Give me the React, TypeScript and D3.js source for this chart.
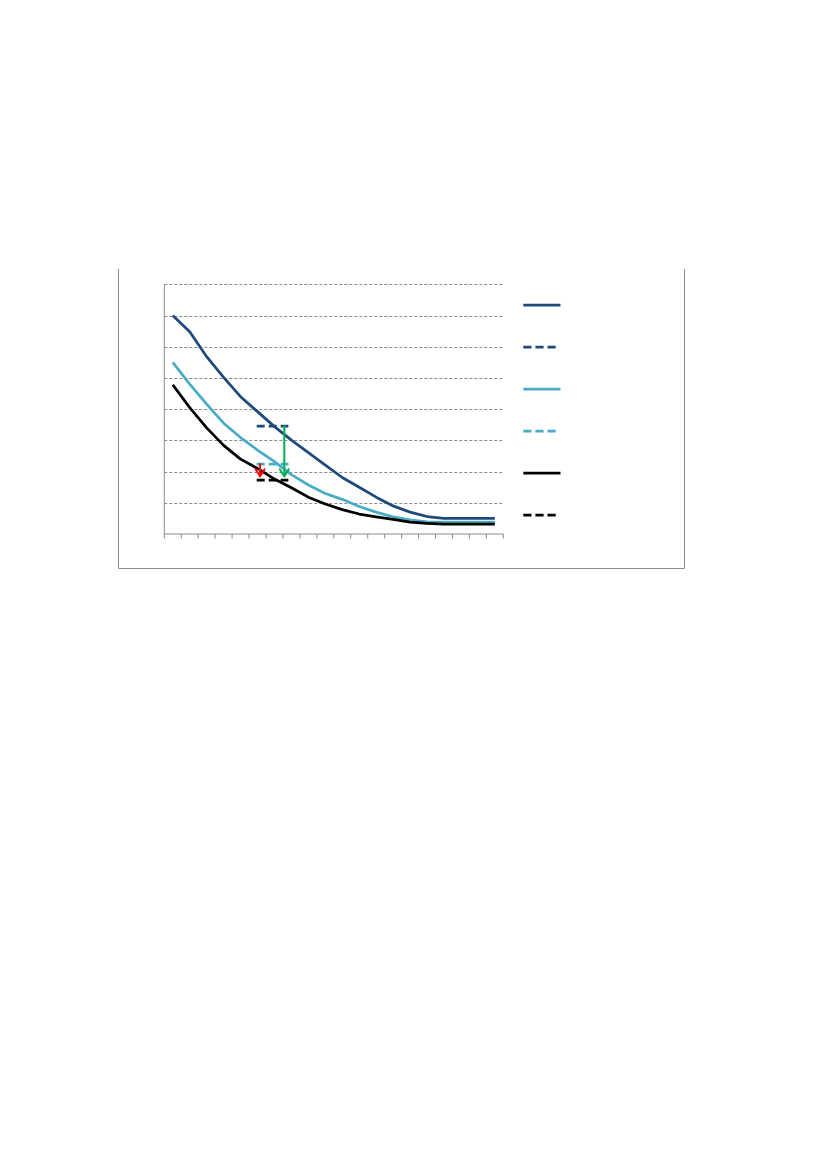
import React from "react";
import * as d3 from "d3";

// categories along the x axis (no labels are shown in the reference)
const categories = [1, 2, 3, 4, 5, 6, 7, 8, 9, 10, 11, 12, 13, 14, 15, 16, 17, 18, 19, 20];

// solid series
const darkBlueValues = [7.0, 6.48, 5.68, 5.02, 4.4, 3.92, 3.44, 3.01, 2.61, 2.21, 1.81, 1.5, 1.18, 0.9, 0.7, 0.56, 0.5, 0.5, 0.5, 0.5];
const lightBlueValues = [5.5, 4.8, 4.16, 3.55, 3.09, 2.69, 2.32, 1.9, 1.57, 1.3, 1.11, 0.88, 0.7, 0.55, 0.45, 0.39, 0.38, 0.38, 0.38, 0.38];
const blackValues = [4.78, 4.05, 3.4, 2.84, 2.4, 2.1, 1.76, 1.48, 1.18, 0.96, 0.78, 0.64, 0.55, 0.47, 0.38, 0.34, 0.32, 0.32, 0.32, 0.32];

// dashed reference segments (x in category-index units)
const dashedX = [4.95, 6.82];
const darkBlueDashed = [3.46, 3.46];
const lightBlueDashed = [2.24, 2.24];
const blackDashed = [1.73, 1.73];

// arrows: [x index, from value, to value]
const greenArrow = [6.58, 3.46, 1.85];
const redArrow = [5.15, 2.24, 1.85];

const yTicks = [0, 1, 2, 3, 4, 5, 6, 7, 8];

const DARK = "#1F497D";
const LIGHT = "#4BACC6";
const BLACK = "#000000";

const legendItems = [
  { color: DARK, dashed: false },
  { color: DARK, dashed: true },
  { color: LIGHT, dashed: false },
  { color: LIGHT, dashed: true },
  { color: BLACK, dashed: false },
  { color: BLACK, dashed: true },
];

export default function App() {
  const W = 827;
  const H = 1170;
  const left = 164.3;
  const right = 503.3;
  const top = 284.3;
  const bottom = 534;
  const n = categories.length;

  const xBand = d3.scaleLinear().domain([0, n]).range([left, right]);
  const xc = (i: number) => xBand(i + 0.5);
  const y = d3.scaleLinear().domain([0, 8]).range([bottom, top]);

  const line = d3
    .line<number>()
    .x((_, i) => xc(i))
    .y((d) => y(d));

  const dashLine = (vals: number[]) =>
    d3
      .line<number>()
      .x((_, i) => xc(dashedX[i]))
      .y((d) => y(d))(vals) || "";

  const arrow = (a: number[], color: string) => {
    const x = xc(a[0]);
    const y1 = y(a[1]);
    const y2 = y(a[2]);
    return (
      <g stroke={color} strokeWidth={2} fill="none" strokeLinecap="round" strokeLinejoin="round">
        <line x1={x} y1={y1} x2={x} y2={y2} />
        <polyline points={`${x - 4.5},${y2 - 7} ${x},${y2} ${x + 4.5},${y2 - 7}`} />
      </g>
    );
  };

  const legendX1 = 523.3;
  const legendX2 = 560.5;
  const legendY0 = 305;
  const legendStep = 42;

  return (
    <svg
      width={W}
      height={H}
      style={{ position: "absolute", left: 0, top: 0, background: "#fff" }}
    >
      {/* outer frame */}
      <g stroke="#8c8c8c" strokeWidth={1} fill="none">
        <line x1={118.5} y1={269} x2={118.5} y2={568.5} />
        <line x1={684.5} y1={269} x2={684.5} y2={568.5} />
        <line x1={118.5} y1={568.5} x2={684.5} y2={568.5} />
      </g>

      {/* gridlines */}
      <g stroke="#8c8c8c" strokeWidth={1} strokeDasharray="3,2">
        {yTicks
          .filter((t) => t > 0)
          .map((t) => (
            <line key={t} x1={left} x2={right} y1={Math.round(y(t)) + 0.5} y2={Math.round(y(t)) + 0.5} />
          ))}
      </g>

      {/* axes */}
      <g stroke="#8c8c8c" strokeWidth={1}>
        <line x1={left} x2={left} y1={top} y2={bottom} />
        <line x1={left} x2={right} y1={bottom} y2={bottom} />
        {d3.range(n + 1).map((i) => (
          <line key={i} x1={xBand(i)} x2={xBand(i)} y1={bottom} y2={bottom + 4.5} />
        ))}
      </g>

      {/* solid series */}
      <path d={line(darkBlueValues) || ""} fill="none" stroke={DARK} strokeWidth={2.75} strokeLinejoin="round" />
      <path d={line(lightBlueValues) || ""} fill="none" stroke={LIGHT} strokeWidth={2.75} strokeLinejoin="round" />
      <path d={line(blackValues) || ""} fill="none" stroke={BLACK} strokeWidth={2.75} strokeLinejoin="round" />

      {/* dashed series */}
      <path d={dashLine(darkBlueDashed)} fill="none" stroke={DARK} strokeWidth={2.75} strokeDasharray="8,4" />
      <path d={dashLine(lightBlueDashed)} fill="none" stroke={LIGHT} strokeWidth={2.75} strokeDasharray="8,4" />
      <path d={dashLine(blackDashed)} fill="none" stroke={BLACK} strokeWidth={2.75} strokeDasharray="8,4" />

      {/* arrows */}
      {arrow(greenArrow, "#00B050")}
      {arrow(redArrow, "#FF0000")}

      {/* legend (symbols only) */}
      {legendItems.map((item, i) => {
        const ly = legendY0 + i * legendStep;
        return (
          <line
            key={i}
            x1={legendX1}
            x2={item.dashed ? legendX1 + 32.4 : legendX2}
            y1={ly}
            y2={ly}
            stroke={item.color}
            strokeWidth={2.75}
            strokeDasharray={item.dashed ? "8.2,3.9" : undefined}
          />
        );
      })}
    </svg>
  );
}
